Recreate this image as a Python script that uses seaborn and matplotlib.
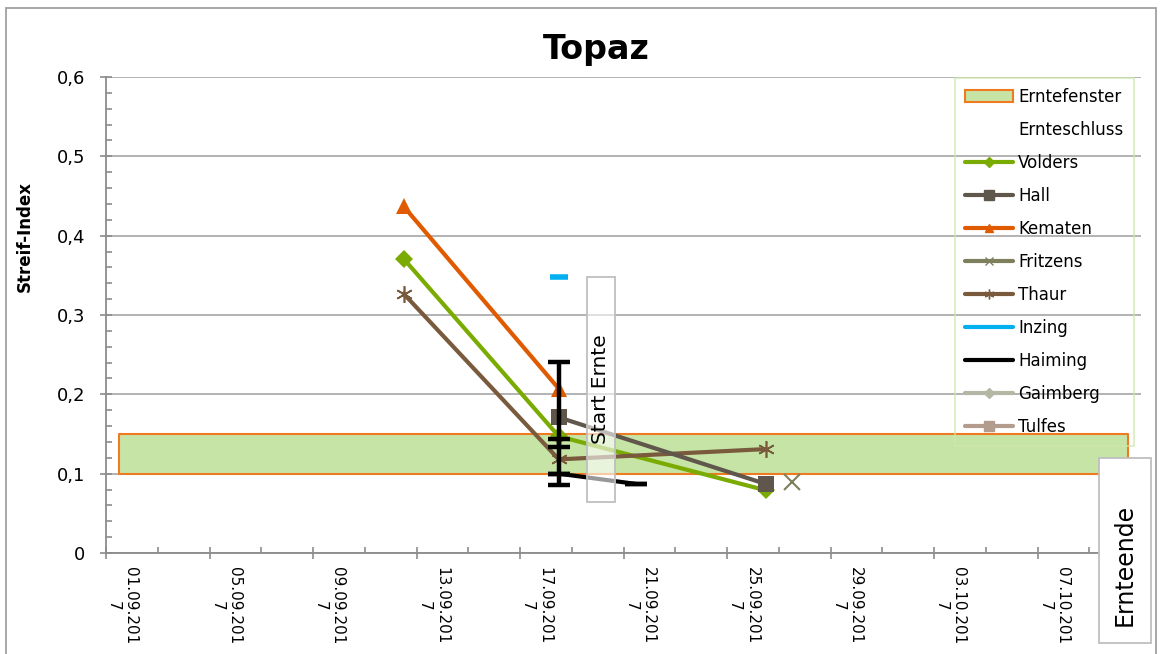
import matplotlib
matplotlib.use('Agg')
import matplotlib.pyplot as plt
from matplotlib.lines import Line2D
from matplotlib.patches import Patch, Rectangle
import numpy as np
import pandas as pd
import seaborn as sns

# --- Streif-Index Topaz 2017 ---
datesVolders = ['12.09.2017', '18.09.2017', '26.09.2017']
valVolders = [0.371, 0.147, 0.079]
datesHall = ['18.09.2017', '26.09.2017']
valHall = [0.171, 0.087]
datesKematen = ['12.09.2017', '18.09.2017']
valKematen = [0.437, 0.207]
datesFritzens = ['27.09.2017']
valFritzens = [0.090]
datesThaur = ['12.09.2017', '18.09.2017', '26.09.2017']
valThaur = [0.327, 0.118, 0.131]
datesInzing = ['18.09.2017']
valInzing = [0.348]
datesHaiming = ['18.09.2017', '21.09.2017']
valHaiming = [0.100, 0.087]
# error bars (lower, upper)
errDates = ['18.09.2017', '18.09.2017', '18.09.2017', '21.09.2017']
errLow = [0.086, 0.133, 0.100, 0.087]
errHigh = [0.241, 0.144, 0.100, 0.087]
# Erntefenster
fensterDates = ['01.09.2017', '10.10.2017']
fensterLow = 0.10
fensterHigh = 0.15

yTicks = [0, 0.1, 0.2, 0.3, 0.4, 0.5, 0.6]
yTickLabels = ['0', '0,1', '0,2', '0,3', '0,4', '0,5', '0,6']

colVolders = '#7aab00'
colHall = '#5f564c'
colKematen = '#e05a00'
colFritzens = '#7d7f5d'
colThaur = '#7a5a3c'
colInzing = '#00b0f0'
colHaiming = 'black'
colGaimberg = '#b4b7a4'
colTulfes = '#b39c8e'
gridCol = '#a6a6a6'

def toX(lst):
    # Excel draws the point in the middle of the day
    return pd.to_datetime(lst, format='%d.%m.%Y') + pd.Timedelta(hours=12)

sns.set_theme(style='white')
plt.rcParams['font.family'] = ['DejaVu Sans']
plt.rcParams['text.color'] = 'black'
plt.rcParams['axes.labelcolor'] = 'black'
plt.rcParams['xtick.labelcolor'] = 'black'
plt.rcParams['ytick.labelcolor'] = 'black'

fig = plt.figure(figsize=(11.6, 6.54), dpi=100)
ax = fig.add_axes([106/1160, 1-553/654, (1141-106)/1160, (553-77)/654])

ax.fill_between(toX(fensterDates), fensterLow, fensterHigh, facecolor='#c6e4a6',
                edgecolor='#f07a20', linewidth=1.5, zorder=1)

lw = 3
sns.lineplot(x=toX(datesVolders), y=valVolders, ax=ax, color=colVolders, lw=lw,
             marker='D', markersize=9, markeredgewidth=0, legend=False, zorder=3)
sns.lineplot(x=toX(datesThaur), y=valThaur, ax=ax, color=colThaur, lw=lw,
             marker=(6, 2, 0), markersize=12, markeredgewidth=1.2, markeredgecolor=colThaur,
             legend=False, zorder=3)
sns.lineplot(x=toX(datesHall), y=valHall, ax=ax, color=colHall, lw=lw,
             marker='s', markersize=11, markeredgewidth=0, legend=False, zorder=4)
sns.lineplot(x=toX(datesKematen), y=valKematen, ax=ax, color=colKematen, lw=lw,
             marker='^', markersize=12, markeredgewidth=0, legend=False, zorder=3)
sns.lineplot(x=toX(datesFritzens), y=valFritzens, ax=ax, color=colFritzens, lw=lw,
             marker='x', markersize=12, markeredgewidth=1.5, markeredgecolor=colFritzens,
             legend=False, zorder=3)
sns.lineplot(x=toX(datesInzing), y=valInzing, ax=ax, color=colInzing, lw=lw,
             marker='_', markersize=13, markeredgewidth=4, markeredgecolor=colInzing,
             legend=False, zorder=3)
sns.lineplot(x=toX(datesHaiming), y=valHaiming, ax=ax, color=colHaiming, lw=lw,
             legend=False, zorder=4)

lo = np.array(errLow)
hi = np.array(errHigh)
ax.errorbar(toX(errDates), (lo+hi)/2, yerr=(hi-lo)/2, fmt='none', ecolor='black',
            elinewidth=3.2, capsize=8, capthick=3.2, zorder=5)

ax.set_xlim(pd.Timestamp('2017-09-01'), pd.Timestamp('2017-10-11'))
ax.set_ylim(0, 0.6)
majorX = pd.date_range('2017-09-01', '2017-10-08', freq='4D')
minorX = pd.date_range('2017-09-01', '2017-10-11', freq='2D')
ax.set_xticks(majorX)
ax.set_xticks(minorX, minor=True)
xLabels = []
for d in majorX:
    s = d.strftime('%d.%m.%Y')
    xLabels.append(s[:-1] + '\n' + s[-1])
# left edge of the rotated label sits on the tick, like Excel
ax.set_xticklabels(xLabels, rotation=-90, ha='left', va='top',
                   multialignment='center', fontsize=11)

ax.set_yticks(yTicks)
ax.set_yticklabels(yTickLabels, fontsize=13)
ax.set_yticks(np.arange(0, 0.601, 0.02), minor=True)

ax.tick_params(axis='both', which='major', direction='inout', length=8, width=1.2,
               color='#8c8c8c', bottom=True, left=True)
ax.tick_params(axis='both', which='minor', direction='in', length=4, width=1.2,
               color='#8c8c8c', bottom=True, left=True)
ax.tick_params(axis='x', which='major', pad=6)
ax.tick_params(axis='y', which='major', pad=11)

ax.yaxis.grid(True, color=gridCol, linewidth=1.2)
ax.xaxis.grid(False)
ax.set_axisbelow(True)
for sp in ['top', 'right']:
    ax.spines[sp].set_visible(False)
for sp in ['left', 'bottom']:
    ax.spines[sp].set_color('#8c8c8c')
    ax.spines[sp].set_linewidth(1.3)

ax.set_xlabel('')
ax.set_ylabel('Streif-Index', fontsize=12, fontweight='bold')
ax.yaxis.set_label_coords((34-106)/1035, (553-237)/476)

fig.text(596/1160, 1-50/654, 'Topaz', ha='center', va='center', fontsize=24, fontweight='bold')

# legend
handles = [
    Patch(facecolor='#c6e4a6', edgecolor='#f07a20', linewidth=1.5),
    Line2D([], [], color='white', lw=lw),
    Line2D([], [], color=colVolders, lw=lw, marker='D', markersize=5),
    Line2D([], [], color=colHall, lw=lw, marker='s', markersize=7),
    Line2D([], [], color=colKematen, lw=lw, marker='^', markersize=6),
    Line2D([], [], color=colFritzens, lw=lw, marker='x', markersize=6, markeredgewidth=1),
    Line2D([], [], color=colThaur, lw=lw, marker=(6, 2, 0), markersize=7, markeredgewidth=1),
    Line2D([], [], color=colInzing, lw=lw),
    Line2D([], [], color=colHaiming, lw=lw),
    Line2D([], [], color=colGaimberg, lw=lw, marker='D', markersize=5),
    Line2D([], [], color=colTulfes, lw=lw, marker='s', markersize=7),
]
labels = ['Erntefenster', 'Ernteschluss', 'Volders', 'Hall', 'Kematen', 'Fritzens',
          'Thaur', 'Inzing', 'Haiming', 'Gaimberg', 'Tulfes']
leg = ax.legend(handles, labels, loc='upper left', bbox_to_anchor=(955/1160, 1-78/654),
                bbox_transform=fig.transFigure, fontsize=12, frameon=True, fancybox=False,
                facecolor='none', edgecolor='#cfe8a8', handlelength=2.9, labelspacing=0.9,
                borderpad=0.6, handletextpad=0.3, borderaxespad=0)
leg.get_frame().set_linewidth(1.2)

# text boxes
fig.add_artist(Rectangle((587/1160, 1-502/654), 28/1160, 225/654, transform=fig.transFigure,
                         facecolor=(1, 1, 1, 0.6), edgecolor='#bfbfbf', lw=1.3, zorder=5))
fig.text(601/1160, 1-389/654, 'Start Ernte', rotation=90, ha='center', va='center',
         fontsize=14.5, zorder=6)
fig.add_artist(Rectangle((1099/1160, 1-643/654), 52/1160, 185/654, transform=fig.transFigure,
                         facecolor='white', edgecolor='#bfbfbf', lw=1.3, zorder=5))
fig.text(1125/1160, 1-565/654, 'Ernteende', rotation=90, ha='center', va='center',
         fontsize=17, zorder=6)

# outer chart frame
fig.add_artist(Rectangle((6/1160, -0.05), 1150/1160, 1.05-8/654, transform=fig.transFigure,
                         facecolor='none', edgecolor='#a0a0a0', lw=1.3, zorder=7))

plt.savefig('out.png', dpi=100)
plt.close()
